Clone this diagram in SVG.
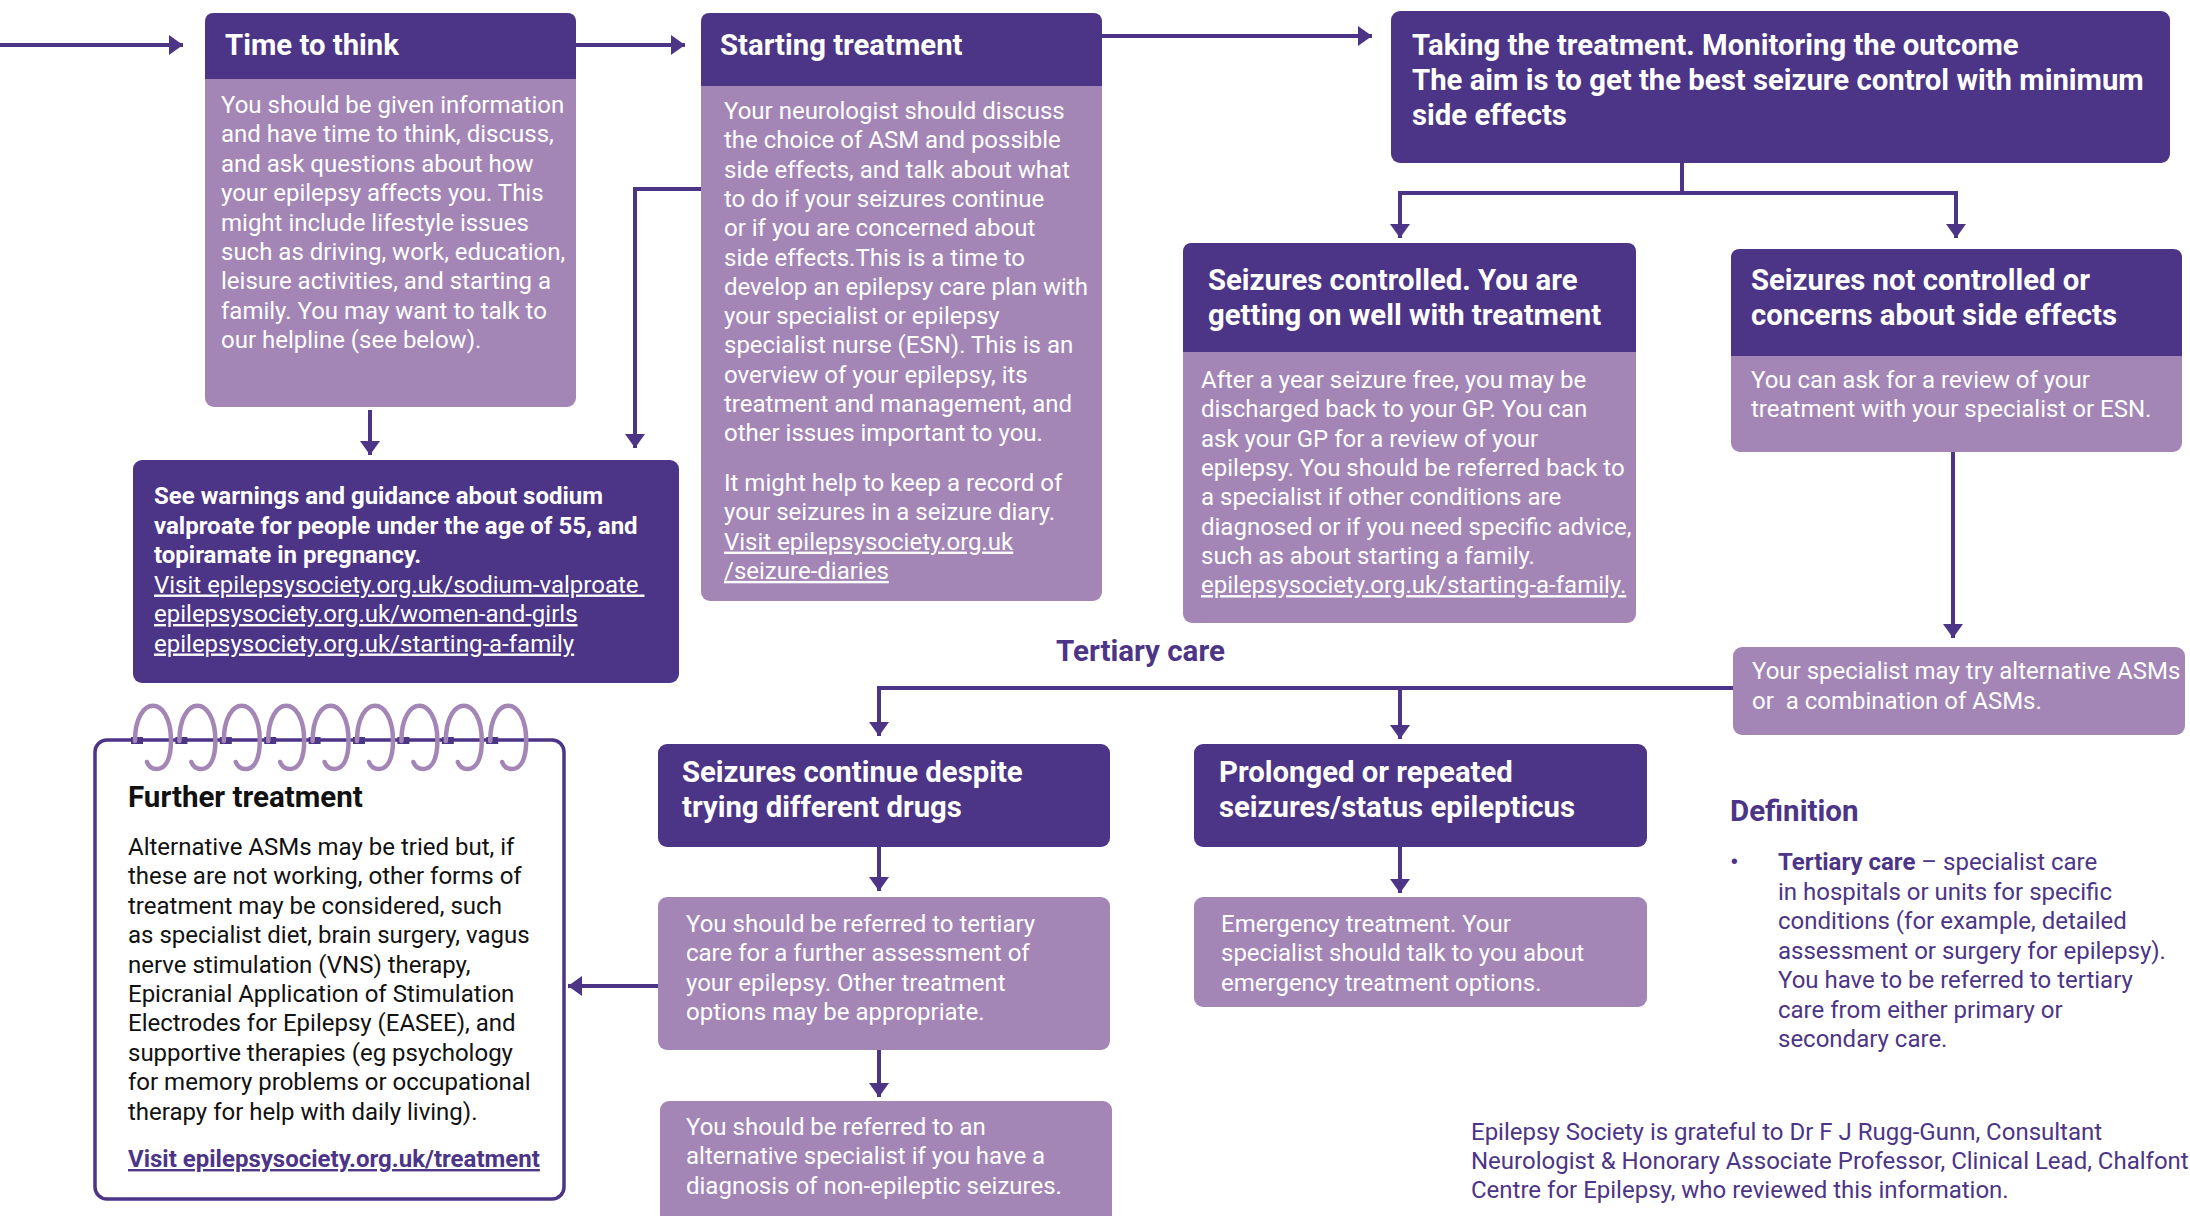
<svg xmlns="http://www.w3.org/2000/svg" width="2190" height="1216" viewBox="0 0 2190 1216">
<defs>
<style>
text{font-family:Roboto,"Liberation Sans",Arial,sans-serif}
.dk{fill:#4c3587}
.lt{fill:#a386b6}
.h{font-size:29.3px;font-weight:700;fill:#fff}
.b{font-size:24px;fill:#fff}
.bb{font-size:24px;font-weight:700;fill:#fff}
.u{text-decoration:underline}
.p{fill:#4c3587}
.k{fill:#111}
.con{fill:none;stroke:#4c3587;stroke-width:4}
.ring{fill:none;stroke:#a386b6;stroke-width:4.5;stroke-linecap:round}
</style>
<marker id="ah" markerUnits="userSpaceOnUse" markerWidth="16" markerHeight="20" refX="14" refY="10" orient="auto">
<path d="M0,0 L14,10 L0,20 Z" fill="#4c3587"/>
</marker>
</defs>
<rect width="2190" height="1216" fill="#fff"/>

<g id="connectors">
<path class="con" d="M0,45 H183" marker-end="url(#ah)"/>
<path class="con" d="M576,45 H685" marker-end="url(#ah)"/>
<path class="con" d="M1102,36 H1372" marker-end="url(#ah)"/>
<path class="con" d="M370,410 V455" marker-end="url(#ah)"/>
<path class="con" d="M701,189 H635 V448" marker-end="url(#ah)"/>
<path class="con" d="M1682,163 V193"/>
<path class="con" d="M1682,193 H1400 V238" marker-end="url(#ah)"/>
<path class="con" d="M1682,193 H1956 V238" marker-end="url(#ah)"/>
<path class="con" d="M1953,452 V638" marker-end="url(#ah)"/>
<path class="con" d="M1733,688 H879 V736" marker-end="url(#ah)"/>
<path class="con" d="M1400,688 V739" marker-end="url(#ah)"/>
<path class="con" d="M879,847 V891" marker-end="url(#ah)"/>
<path class="con" d="M1400,847 V893" marker-end="url(#ah)"/>
<path class="con" d="M879,1050 V1097" marker-end="url(#ah)"/>
<path class="con" d="M658,986 H568" marker-end="url(#ah)"/>
</g>

<g id="time-to-think">
<rect class="lt" x="205" y="13" width="371" height="394" rx="9"/>
<path class="dk" d="M205,79 V22 Q205,13 214,13 H567 Q576,13 576,22 V79 Z"/>
<text class="h" x="225" y="55">Time to think</text>
<text class="b" x="221">
<tspan x="221" y="113">You should be given information</tspan>
<tspan x="221" y="142.4">and have time to think, discuss,</tspan>
<tspan x="221" y="171.8">and ask questions about how</tspan>
<tspan x="221" y="201.2">your epilepsy affects you. This</tspan>
<tspan x="221" y="230.6">might include lifestyle issues</tspan>
<tspan x="221" y="260">such as driving, work, education,</tspan>
<tspan x="221" y="289.4">leisure activities, and starting a</tspan>
<tspan x="221" y="318.8">family. You may want to talk to</tspan>
<tspan x="221" y="348.2">our helpline (see below).</tspan>
</text>
</g>

<g id="starting-treatment">
<rect class="lt" x="701" y="13" width="401" height="588" rx="9"/>
<path class="dk" d="M701,86 V22 Q701,13 710,13 H1093 Q1102,13 1102,22 V86 Z"/>
<text class="h" x="720" y="55">Starting treatment</text>
<text class="b">
<tspan x="724" y="119">Your neurologist should discuss</tspan>
<tspan x="724" y="148.3">the choice of ASM and possible</tspan>
<tspan x="724" y="177.6">side effects, and talk about what</tspan>
<tspan x="724" y="206.9">to do if your seizures continue</tspan>
<tspan x="724" y="236.2">or if you are concerned about</tspan>
<tspan x="724" y="265.5">side effects.This is a time to</tspan>
<tspan x="724" y="294.8">develop an epilepsy care plan with</tspan>
<tspan x="724" y="324.1">your specialist or epilepsy</tspan>
<tspan x="724" y="353.4">specialist nurse (ESN). This is an</tspan>
<tspan x="724" y="382.7">overview of your epilepsy, its</tspan>
<tspan x="724" y="412">treatment and management, and</tspan>
<tspan x="724" y="441.3">other issues important to you.</tspan>
<tspan x="724" y="491">It might help to keep a record of</tspan>
<tspan x="724" y="520.3">your seizures in a seizure diary.</tspan>
<tspan class="u" x="724" y="549.6">Visit epilepsysociety.org.uk</tspan>
<tspan class="u" x="724" y="578.9">/seizure-diaries</tspan>
</text>
</g>

<g id="taking-treatment">
<rect class="dk" x="1391" y="11" width="779" height="152" rx="9"/>
<text class="h">
<tspan x="1412" y="55">Taking the treatment. Monitoring the outcome</tspan>
<tspan x="1412" y="90">The aim is to get the best seizure control with minimum</tspan>
<tspan x="1412" y="125">side effects</tspan>
</text>
</g>

<g id="seizures-controlled">
<rect class="lt" x="1183" y="243" width="453" height="380" rx="9"/>
<path class="dk" d="M1183,352 V252 Q1183,243 1192,243 H1627 Q1636,243 1636,252 V352 Z"/>
<text class="h">
<tspan x="1208" y="290">Seizures controlled. You are</tspan>
<tspan x="1208" y="325">getting on well with treatment</tspan>
</text>
<text class="b">
<tspan x="1201" y="388">After a year seizure free, you may be</tspan>
<tspan x="1201" y="417.3">discharged back to your GP. You can</tspan>
<tspan x="1201" y="446.6">ask your GP for a review of your</tspan>
<tspan x="1201" y="475.9">epilepsy. You should be referred back to</tspan>
<tspan x="1201" y="505.2">a specialist if other conditions are</tspan>
<tspan x="1201" y="534.5">diagnosed or if you need specific advice,</tspan>
<tspan x="1201" y="563.8">such as about starting a family.</tspan>
<tspan class="u" x="1201" y="593.1">epilepsysociety.org.uk/starting-a-family.</tspan>
</text>
</g>

<g id="seizures-not-controlled">
<rect class="lt" x="1731" y="249" width="451" height="203" rx="9"/>
<path class="dk" d="M1731,356 V258 Q1731,249 1740,249 H2173 Q2182,249 2182,258 V356 Z"/>
<text class="h">
<tspan x="1751" y="290">Seizures not controlled or</tspan>
<tspan x="1751" y="325">concerns about side effects</tspan>
</text>
<text class="b">
<tspan x="1751" y="388">You can ask for a review of your</tspan>
<tspan x="1751" y="417.3">treatment with your specialist or ESN.</tspan>
</text>
</g>

<g id="alternative-asms">
<rect class="lt" x="1733" y="647" width="452" height="88" rx="9"/>
<text class="b" xml:space="preserve"><tspan x="1752" y="679">Your specialist may try alternative ASMs</tspan><tspan x="1752" y="708.5">or  a combination of ASMs.</tspan></text>
</g>

<g id="warnings">
<rect class="dk" x="133" y="460" width="546" height="223" rx="9"/>
<text class="bb">
<tspan x="154" y="504">See warnings and guidance about sodium</tspan>
<tspan x="154" y="533.5">valproate for people under the age of 55, and</tspan>
<tspan x="154" y="563">topiramate in pregnancy.</tspan>
</text>
<text class="b u" xml:space="preserve"><tspan x="154" y="592.5">Visit epilepsysociety.org.uk/sodium-valproate </tspan><tspan x="154" y="622">epilepsysociety.org.uk/women-and-girls</tspan><tspan x="154" y="651.5">epilepsysociety.org.uk/starting-a-family</tspan></text>
</g>

<g id="further-treatment">
<rect x="95" y="740" width="469" height="459" rx="12" fill="#fff" stroke="#4c3587" stroke-width="3.5"/>
<g id="spiral">
<rect class="dk" x="131" y="737" width="12" height="7"/>
<rect class="dk" x="175.4" y="737" width="12" height="7"/>
<rect class="dk" x="219.8" y="737" width="12" height="7"/>
<rect class="dk" x="264.2" y="737" width="12" height="7"/>
<rect class="dk" x="308.6" y="737" width="12" height="7"/>
<rect class="dk" x="353" y="737" width="12" height="7"/>
<rect class="dk" x="397.4" y="737" width="12" height="7"/>
<rect class="dk" x="441.8" y="737" width="12" height="7"/>
<rect class="dk" x="486.2" y="737" width="12" height="7"/>
<path id="r0" class="ring" d="M135,741 C135,694 171,694 171,741 C171,758 166,769 157,769 C151,769 148,765 147,762"/>
<use href="#r0" x="44.4"/>
<use href="#r0" x="88.8"/>
<use href="#r0" x="133.2"/>
<use href="#r0" x="177.6"/>
<use href="#r0" x="222"/>
<use href="#r0" x="266.4"/>
<use href="#r0" x="310.8"/>
<use href="#r0" x="355.2"/>
</g>
<text x="128" y="807" style="font-size:29.5px;font-weight:700" class="k">Further treatment</text>
<text class="k" style="font-size:24px">
<tspan x="128" y="855">Alternative ASMs may be tried but, if</tspan>
<tspan x="128" y="884.4">these are not working, other forms of</tspan>
<tspan x="128" y="913.8">treatment may be considered, such</tspan>
<tspan x="128" y="943.2">as specialist diet, brain surgery, vagus</tspan>
<tspan x="128" y="972.6">nerve stimulation (VNS) therapy,</tspan>
<tspan x="128" y="1002">Epicranial Application of Stimulation</tspan>
<tspan x="128" y="1031.4">Electrodes for Epilepsy (EASEE), and</tspan>
<tspan x="128" y="1060.8">supportive therapies (eg psychology</tspan>
<tspan x="128" y="1090.2">for memory problems or occupational</tspan>
<tspan x="128" y="1119.6">therapy for help with daily living).</tspan>
</text>
<text x="128" y="1167" class="p u" style="font-size:24px;font-weight:700">Visit epilepsysociety.org.uk/treatment</text>
</g>

<g id="tertiary-care-label">
<text x="1056" y="661" class="p" style="font-size:29.5px;font-weight:700">Tertiary care</text>
</g>

<g id="seizures-continue">
<rect class="dk" x="658" y="744" width="452" height="103" rx="9"/>
<text class="h">
<tspan x="682" y="782">Seizures continue despite</tspan>
<tspan x="682" y="817">trying different drugs</tspan>
</text>
</g>

<g id="prolonged-seizures">
<rect class="dk" x="1194" y="744" width="453" height="103" rx="9"/>
<text class="h">
<tspan x="1219" y="782">Prolonged or repeated</tspan>
<tspan x="1219" y="817">seizures/status epilepticus</tspan>
</text>
</g>

<g id="referred-tertiary">
<rect class="lt" x="658" y="897" width="452" height="153" rx="9"/>
<text class="b">
<tspan x="686" y="932">You should be referred to tertiary</tspan>
<tspan x="686" y="961.3">care for a further assessment of</tspan>
<tspan x="686" y="990.6">your epilepsy. Other treatment</tspan>
<tspan x="686" y="1019.9">options may be appropriate.</tspan>
</text>
</g>

<g id="emergency-treatment">
<rect class="lt" x="1194" y="897" width="453" height="110" rx="9"/>
<text class="b">
<tspan x="1221" y="932">Emergency treatment. Your</tspan>
<tspan x="1221" y="961.3">specialist should talk to you about</tspan>
<tspan x="1221" y="990.6">emergency treatment options.</tspan>
</text>
</g>

<g id="alternative-specialist">
<rect class="lt" x="660" y="1101" width="452" height="140" rx="9"/>
<text class="b">
<tspan x="686" y="1135">You should be referred to an</tspan>
<tspan x="686" y="1164.3">alternative specialist if you have a</tspan>
<tspan x="686" y="1193.6">diagnosis of non-epileptic seizures.</tspan>
</text>
</g>

<g id="definition">
<text x="1730" y="821" class="p" style="font-size:29.5px;font-weight:700">Definition</text>
<text x="1730" y="871" class="p" style="font-size:26px">•</text>
<text class="p" style="font-size:24px">
<tspan x="1778" y="870"><tspan style="font-weight:700">Tertiary care</tspan> – specialist care</tspan>
<tspan x="1778" y="899.5">in hospitals or units for specific</tspan>
<tspan x="1778" y="929">conditions (for example, detailed</tspan>
<tspan x="1778" y="958.5">assessment or surgery for epilepsy).</tspan>
<tspan x="1778" y="988">You have to be referred to tertiary</tspan>
<tspan x="1778" y="1017.5">care from either primary or</tspan>
<tspan x="1778" y="1047">secondary care.</tspan>
</text>
</g>

<g id="acknowledgement">
<text class="p" style="font-size:24px">
<tspan x="1471" y="1140">Epilepsy Society is grateful to Dr F J Rugg-Gunn, Consultant</tspan>
<tspan x="1471" y="1169">Neurologist &amp; Honorary Associate Professor, Clinical Lead, Chalfont</tspan>
<tspan x="1471" y="1198">Centre for Epilepsy, who reviewed this information.</tspan>
</text>
</g>
</svg>
